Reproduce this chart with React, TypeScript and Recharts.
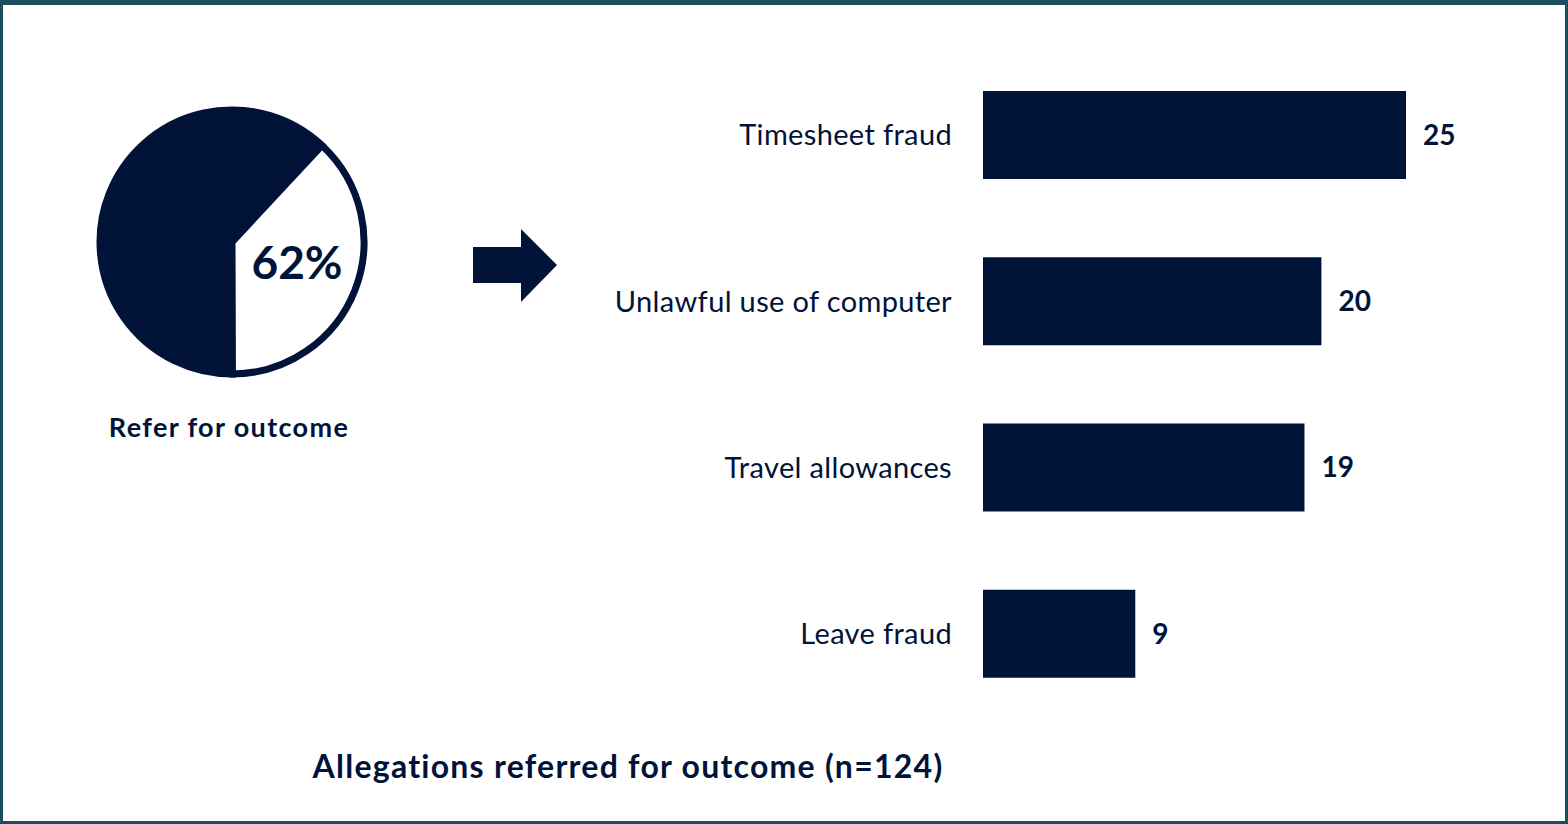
import React from "react";
import { BarChart, Bar, XAxis, YAxis, LabelList, PieChart, Pie, Cell } from "recharts";

// share of allegations referred for outcome (%)
const pieNames = ["Refer for outcome", "Other"];
const pieValues = [62, 38];

// allegation types referred for outcome
const categories = ["Timesheet fraud", "Unlawful use of computer", "Travel allowances", "Leave fraud"];
const counts = [25, 20, 19, 9];

const title = "Allegations referred for outcome (n=124)";

const NAVY = "#011339";
const FRAME = "#1b4f5f";
const FONT = "Lato, 'Open Sans', sans-serif";

const pieData = pieNames.map((name, i) => ({ name, value: pieValues[i] }));
const barData = categories.map((name, i) => ({ name, value: counts[i] }));
const PIE_COLORS = [NAVY, "#ffffff"];

const App: React.FC = () => {
  return (
    <div
      style={{
        position: "absolute",
        left: 0,
        top: 0,
        width: 1568,
        height: 824,
        background: "#ffffff",
        fontFamily: FONT,
        overflow: "hidden",
      }}
    >
      {/* frame */}
      <div
        style={{
          position: "absolute",
          left: 0,
          top: 0,
          width: 1568,
          height: 824,
          boxSizing: "border-box",
          borderStyle: "solid",
          borderColor: FRAME,
          borderWidth: "5px 3px 3px 3px",
        }}
      />
      <div style={{ position: "absolute", left: 785, top: 0, width: 7, height: 3, background: FRAME }} />

      {/* bars */}
      <div style={{ position: "absolute", left: 560, top: 0 }}>
        <BarChart
          width={946}
          height={824}
          layout="vertical"
          data={barData}
          margin={{ top: 52, right: 100, bottom: 107, left: 0 }}
        >
          <XAxis type="number" domain={[0, 25]} hide />
          <YAxis
            type="category"
            dataKey="name"
            width={423}
            axisLine={false}
            tickLine={false}
            tickSize={0}
            tickMargin={31}
            interval={0}
            tick={{ fill: NAVY, fontSize: 29, fontFamily: FONT, letterSpacing: 0.35 }}
          />
          <Bar dataKey="value" fill={NAVY} barSize={88} isAnimationActive={false}>
            <LabelList
              dataKey="value"
              position="right"
              offset={17}
              fill={NAVY}
              fontSize={28}
              fontWeight="bold"
              fontFamily={FONT}
            />
          </Bar>
        </BarChart>
      </div>

      {/* pie */}
      <div style={{ position: "absolute", left: 0, top: 0 }}>
        <PieChart width={470} height={480}>
          <Pie
            data={pieData}
            dataKey="value"
            cx={227}
            cy={237}
            innerRadius={0}
            outerRadius={132}
            startAngle={47}
            endAngle={407}
            stroke={NAVY}
            strokeWidth={7}
            isAnimationActive={false}
          >
            {pieData.map((entry, index) => (
              <Cell key={`cell-${index}`} fill={PIE_COLORS[index]} />
            ))}
          </Pie>
        </PieChart>
      </div>

      {/* arrow and text */}
      <svg
        width={1568}
        height={824}
        style={{ position: "absolute", left: 0, top: 0, pointerEvents: "none" }}
      >
        <polygon points="473,247 521,247 521,229 557,265 521,302 521,283 473,283" fill={NAVY} />
        <text x={297} y={279} textAnchor="middle" fill={NAVY} fontSize={46} fontWeight="bold" fontFamily={FONT}>
          {`${pieValues[0]}%`}
        </text>
        <text
          x={229}
          y={437}
          textAnchor="middle"
          fill={NAVY}
          fontSize={27}
          fontWeight="bold"
          fontFamily={FONT}
          letterSpacing={1.35}
        >
          {pieNames[0]}
        </text>
        <text
          x={628}
          y={778}
          textAnchor="middle"
          fill={NAVY}
          fontSize={32}
          fontWeight="bold"
          fontFamily={FONT}
          letterSpacing={1.25}
        >
          {title}
        </text>
      </svg>
    </div>
  );
};

export default App;
